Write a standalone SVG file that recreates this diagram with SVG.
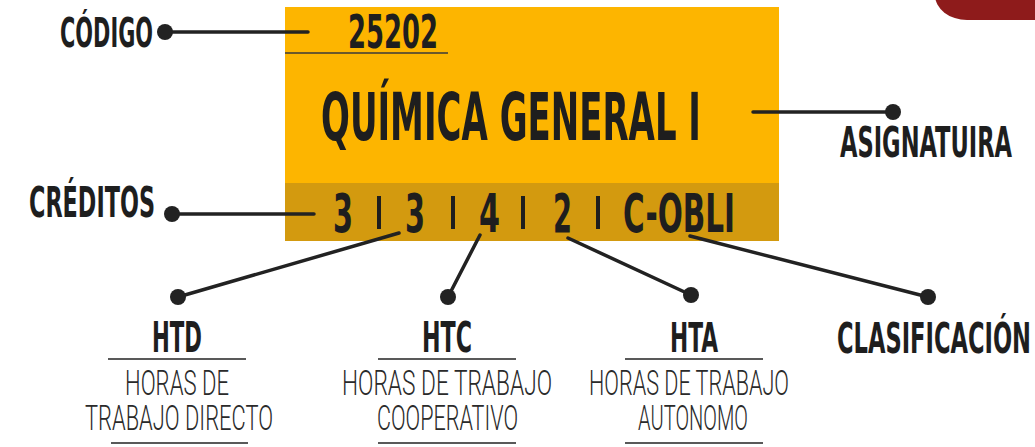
<svg xmlns="http://www.w3.org/2000/svg" width="1035" height="447" viewBox="0 0 1035 447">
<style>
.b{font-family:"Liberation Sans Narrow","DejaVu Sans Condensed","Liberation Sans",sans-serif;font-weight:bold;fill:#1e1e1e}
.l{font-family:"Roboto","Liberation Sans Narrow","DejaVu Sans",sans-serif;font-weight:300;fill:#2a2a2a;font-size:23px}
.c{stroke:#222;stroke-width:3.5;fill:none;stroke-linecap:round}
.d{fill:#222}
.r{stroke:#222;stroke-width:1.5}
.sep{stroke:#1e1e1e;stroke-width:4}
.n{font-size:42px}
</style>
<rect id="corner" x="935" y="-30" width="140" height="50" rx="32" fill="#8E1B1B"/>
<g id="card">
<rect x="285" y="7" width="494" height="234" fill="#FDB500"/>
<rect x="285" y="183" width="494" height="58" fill="#D39A0F"/>
<line x1="285" y1="53" x2="448" y2="53" stroke="#3a3a3a" stroke-width="1.5"/>
<text class="b" transform="translate(348,48) scale(1,1.17)" font-size="39.5" textLength="90" lengthAdjust="spacingAndGlyphs">25202</text>
<text class="b" transform="translate(321,140) scale(1,1.41)" font-size="46.4" textLength="380" lengthAdjust="spacingAndGlyphs">QUÍMICA GENERAL I</text>
<g id="creditos-valores">
<text class="b n" transform="translate(333,232) scale(1,1.27)" textLength="20" lengthAdjust="spacingAndGlyphs">3</text>
<line class="sep" x1="379" y1="196" x2="379" y2="229"/>
<text class="b n" transform="translate(405,232) scale(1,1.27)" textLength="20" lengthAdjust="spacingAndGlyphs">3</text>
<line class="sep" x1="453" y1="196" x2="453" y2="229"/>
<text class="b n" transform="translate(479,232) scale(1,1.27)" textLength="21" lengthAdjust="spacingAndGlyphs">4</text>
<line class="sep" x1="523" y1="196" x2="523" y2="229"/>
<text class="b n" transform="translate(553,232) scale(1,1.27)" textLength="19" lengthAdjust="spacingAndGlyphs">2</text>
<line class="sep" x1="598" y1="196" x2="598" y2="229"/>
<text class="b n" transform="translate(623,232) scale(1,1.27)" textLength="112" lengthAdjust="spacingAndGlyphs">C-OBLI</text>
</g>
</g>
<g id="connectors">
<line class="c" x1="165" y1="32" x2="308" y2="32"/>
<line class="c" x1="753" y1="112" x2="893" y2="112"/>
<line class="c" x1="172" y1="214" x2="314" y2="214"/>
<line class="c" x1="399" y1="233" x2="178" y2="297"/>
<line class="c" x1="480" y1="235" x2="448" y2="297"/>
<line class="c" x1="568" y1="238" x2="691" y2="295"/>
<line class="c" x1="690" y1="236" x2="928" y2="297"/>
</g>
<g id="codigo">
<text class="b" transform="translate(60,47) scale(1,1.45)" font-size="28" textLength="93" lengthAdjust="spacingAndGlyphs">CÓDIGO</text>
<circle class="d" cx="165" cy="32" r="8"/>
</g>
<g id="asignatura">
<circle class="d" cx="893" cy="112" r="8"/>
<text class="b" transform="translate(1012,157) scale(1,1.38)" font-size="30.3" text-anchor="end" textLength="172" lengthAdjust="spacingAndGlyphs">ASIGNATUIRA</text>
</g>
<g id="creditos">
<text class="b" transform="translate(29,217) scale(1,1.41)" font-size="29.7" textLength="126" lengthAdjust="spacingAndGlyphs">CRÉDITOS</text>
<circle class="d" cx="172" cy="214" r="8"/>
</g>
<g id="htd">
<circle class="d" cx="178" cy="297" r="8"/>
<text class="b" transform="translate(152,352) scale(1,1.41)" font-size="29.7" textLength="50" lengthAdjust="spacingAndGlyphs">HTD</text>
<line class="r" x1="108" y1="359" x2="246" y2="359"/>
<text class="l" transform="translate(125,395) scale(1,1.53)" textLength="104" lengthAdjust="spacingAndGlyphs">HORAS DE</text>
<text class="l" transform="translate(85,430) scale(1,1.53)" textLength="188" lengthAdjust="spacingAndGlyphs">TRABAJO DIRECTO</text>
<line class="r" x1="111" y1="443" x2="248" y2="443" stroke-width="2"/>
</g>
<g id="htc">
<circle class="d" cx="448" cy="297" r="8"/>
<text class="b" transform="translate(422,352) scale(1,1.41)" font-size="29.7" textLength="50" lengthAdjust="spacingAndGlyphs">HTC</text>
<line class="r" x1="378" y1="359" x2="516" y2="359"/>
<text class="l" transform="translate(342,395) scale(1,1.53)" textLength="210" lengthAdjust="spacingAndGlyphs">HORAS DE TRABAJO</text>
<text class="l" transform="translate(377,430) scale(1,1.53)" textLength="141" lengthAdjust="spacingAndGlyphs">COOPERATIVO</text>
<line class="r" x1="378" y1="443" x2="516" y2="443" stroke-width="2"/>
</g>
<g id="hta">
<circle class="d" cx="691" cy="295" r="8"/>
<text class="b" transform="translate(670,352) scale(1,1.41)" font-size="28.5" textLength="48" lengthAdjust="spacingAndGlyphs">HTA</text>
<line class="r" x1="625" y1="359" x2="763" y2="359"/>
<text class="l" transform="translate(589,395) scale(1,1.53)" textLength="200" lengthAdjust="spacingAndGlyphs">HORAS DE TRABAJO</text>
<text class="l" transform="translate(638,430) scale(1,1.53)" textLength="110" lengthAdjust="spacingAndGlyphs">AUTONOMO</text>
<line class="r" x1="625" y1="443" x2="763" y2="443" stroke-width="2"/>
</g>
<g id="clasificacion">
<circle class="d" cx="928" cy="297" r="8"/>
<text class="b" transform="translate(1031,353) scale(1,1.39)" font-size="30.2" text-anchor="end" textLength="194" lengthAdjust="spacingAndGlyphs">CLASIFICACIÓN</text>
</g>
</svg>
